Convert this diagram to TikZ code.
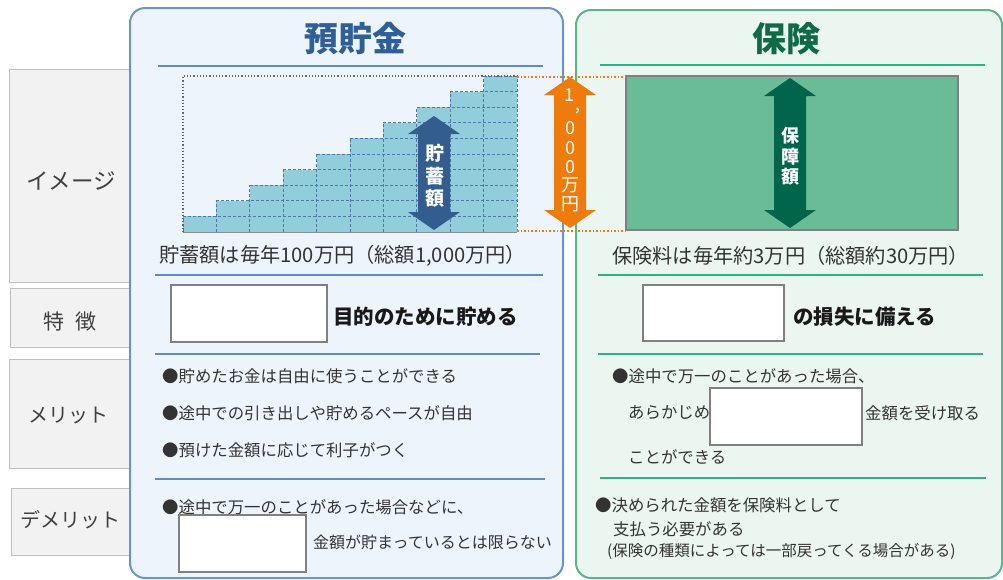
\documentclass[tikz,border=0pt]{standalone}
\usepackage{fontspec}
\newfontfamily\jp{Noto Sans CJK JP}
\definecolor{lbfill}{HTML}{F2F2F2}
\definecolor{lbdraw}{HTML}{BFBFBF}
\definecolor{bluefill}{HTML}{EEF4FC}
\definecolor{blueborder}{HTML}{6A95CC}
\definecolor{blueline}{HTML}{5B8BC8}
\definecolor{bluetitle}{HTML}{2F5F96}
\definecolor{greenfill}{HTML}{ECF6F1}
\definecolor{greenborder}{HTML}{5DB48C}
\definecolor{greenline}{HTML}{2CB387}
\definecolor{greentitle}{HTML}{0E6B46}
\definecolor{stair}{HTML}{92CDDC}
\definecolor{stairline}{HTML}{4F78A6}
\definecolor{arrowblue}{HTML}{335D8E}
\definecolor{arroworange}{HTML}{EF7B0C}
\definecolor{greenrect}{HTML}{69BC95}
\definecolor{arrowgreen}{HTML}{00654A}
\definecolor{txt}{HTML}{333333}
\definecolor{lbltxt}{HTML}{404040}
\newcommand\jpsize[1]{\jp\fontsize{#1}{#1}\selectfont}
\newcommand\dblarrow[4]{%
  \fill[#4] (#1,#2) -- ({#1+26},{#2+18}) -- ({#1+16},{#2+18}) -- ({#1+16},{#3-18}) -- ({#1+26},{#3-18}) -- (#1,#3)
    -- ({#1-26},{#3-18}) -- ({#1-16},{#3-18}) -- ({#1-16},{#2+18}) -- ({#1-26},{#2+18}) -- cycle;}
\tikzset{
  lbox/.style={draw=lbdraw, fill=lbfill, line width=1},
  lbl/.style={font=\jpsize{20}, text=lbltxt, inner sep=0},
  body/.style={font=\jpsize{16.4}, text=txt, anchor=west, inner sep=0},
  info/.style={font=\jpsize{20.2}, text=txt, anchor=west, inner sep=0},
  feat/.style={font=\jpsize{20.5}\bfseries, text=black!90, anchor=west, inner sep=0},
  wbox/.style={draw=black!50, fill=white, line width=1.2, inner sep=0},
  vtxt/.style={text=white, inner sep=0},
  bsep/.style={blueline, line width=2.5},
  gsep/.style={greenline, line width=2.5},
  gridline/.style={stairline, line width=1, dash pattern=on 3pt off 2pt},
}
\begin{document}
\begin{tikzpicture}[x=1pt,y=-1pt]
\useasboundingbox (0,0) rectangle (1003,579);
% left labels
\draw[lbox] (9,69) rectangle (140,282);
\draw[lbox] (10,288) rectangle (140,347);
\draw[lbox] (9,359) rectangle (140,468);
\draw[lbox] (11,488) rectangle (140,555);
\node[lbl, font=\jpsize{22.5}] (limg) at (71,181) {イメージ};
\node[lbl, font=\jpsize{21}] (lfeat) at (70,322) {特\hspace{12pt}徴};
\node[lbl] (lmer) at (68,416) {メリット};
\node[lbl] (ldem) at (70,520) {デメリット};
% panels
\draw[rounded corners=15, line width=2, draw=blueborder, fill=bluefill] (130,8) rectangle (563,578);
\draw[rounded corners=15, line width=2, draw=greenborder, fill=greenfill] (576,10) rectangle (1002,578);
% titles
\node[font=\jpsize{34}\bfseries, text=bluetitle] (t1) at (355,39) {預貯金};
\node[font=\jpsize{34}\bfseries, text=greentitle] (t2) at (786,39) {保険};
\draw[bsep] (158,66) -- (543,66);
\draw[gsep] (600,65) -- (985,65);
% staircase chart
\def\cx{183}\def\cy{232}\def\cw{33.4}\def\ch{15.6}
\foreach \i in {0,...,9}
  \fill[stair] ({\cx+\i*\cw},\cy) rectangle ({\cx+(\i+1)*\cw},{\cy-(\i+1)*\ch});
\foreach \j in {1,...,10}
  \draw[gridline] ({\cx+(\j-1)*\cw},{\cy-\j*\ch}) -- (517,{\cy-\j*\ch});
\foreach \i in {1,...,9}
  \draw[gridline] ({\cx+\i*\cw},\cy) -- ({\cx+\i*\cw},{\cy-(\i+1)*\ch});
\draw[gridline] (\cx,\cy) -- (\cx,{\cy-\ch});
\draw[gridline] (517,\cy) -- (517,76);
\draw[black!60, dotted, line width=1.2] (183,232) -- (183,76) -- (517,76);
\draw[black!45, line width=1] (183,232) -- (517,232);
% green rectangle
\node[draw=black!50, fill=greenrect, line width=1.5, minimum width=332, minimum height=154, inner sep=0] (grect) at (792,153) {};
% orange dotted guides
\draw[arroworange, dotted, line width=1.6] (517,77) -- (626,77);
\draw[arroworange, dotted, line width=1.6] (517,231) -- (626,231);
% arrows
\dblarrow{434}{116}{230}{arrowblue}
\dblarrow{570}{77}{228}{arroworange}
\dblarrow{790}{78}{228}{arrowgreen}
\node[vtxt, font=\jpsize{19}\bfseries] (a1) at (435,153) {貯};
\node[vtxt, font=\jpsize{19}\bfseries] (a2) at (435,176) {蓄};
\node[vtxt, font=\jpsize{19}\bfseries] (a3) at (435,198) {額};
\node[vtxt, font=\jpsize{18}\bfseries] (g1) at (790,136) {保};
\node[vtxt, font=\jpsize{18}\bfseries] (g2) at (790,157) {障};
\node[vtxt, font=\jpsize{18}\bfseries] (g3) at (790,177) {額};
\node[vtxt, font=\jpsize{18}, anchor=base east] (o1) at (575,101) {1};
\node[vtxt, font=\jpsize{18}, anchor=base west] (o2) at (575.5,110) {,};
\node[vtxt, font=\jpsize{18}] (o3) at (570,128) {0};
\node[vtxt, font=\jpsize{18}] (o4) at (570,148) {0};
\node[vtxt, font=\jpsize{18}] (o5) at (570,167) {0};
\node[vtxt, font=\jpsize{18}] (o6) at (570,185) {万};
\node[vtxt, font=\jpsize{18}] (o7) at (570,204) {円};
% info lines
\node[info] (i1) at (159,256) {貯蓄額は毎年100万円（総額1,000万円）};
\node[info] (i2) at (612,256) {保険料は毎年約3万円（総額約30万円）};
\draw[bsep] (155,275) -- (543,275);
\draw[gsep] (598,275) -- (983,275);
% features
\node[wbox, minimum width=156, minimum height=57] (b1) at (249,313.5) {};
\node[feat] (f1) at (333,317) {目的のために貯める};
\node[wbox, minimum width=141, minimum height=56] (b2) at (713.5,313) {};
\node[feat] (f2) at (793,317) {の損失に備える};
\draw[bsep] (155,354) -- (540,354);
\draw[gsep] (598,354) -- (983,354);
% merits
\node[body] (m1) at (162,376) {●貯めたお金は自由に使うことができる};
\node[body] (m2) at (162,413) {●途中での引き出しや貯めるペースが自由};
\node[body] (m3) at (162,450) {●預けた金額に応じて利子がつく};
\node[body] (m4) at (612,376) {●途中で万一のことがあった場合、};
\node[body] (m5) at (628,413) {あらかじめ};
\node[wbox, minimum width=152, minimum height=57] (b3) at (786,416.5) {};
\node[body] (m6) at (865,413) {金額を受け取る};
\node[body] (m7) at (628,457) {ことができる};
\draw[bsep] (155,479) -- (545,479);
\draw[gsep] (600,478) -- (986,478);
% demerits
\node[body] (d1) at (162,507) {●途中で万一のことがあった場合などに、};
\node[wbox, minimum width=127, minimum height=57] (b4) at (242.5,543.5) {};
\node[body, font=\jpsize{16}] (d2) at (313,542) {金額が貯まっているとは限らない};
\node[body] (d3) at (595,505) {●決められた金額を保険料として};
\node[body] (d4) at (613,529) {支払う必要がある};
\node[body, font=\jpsize{15.5}] (d5) at (607,551) {(保険の種類によっては一部戻ってくる場合がある)};
\end{tikzpicture}
\end{document}
